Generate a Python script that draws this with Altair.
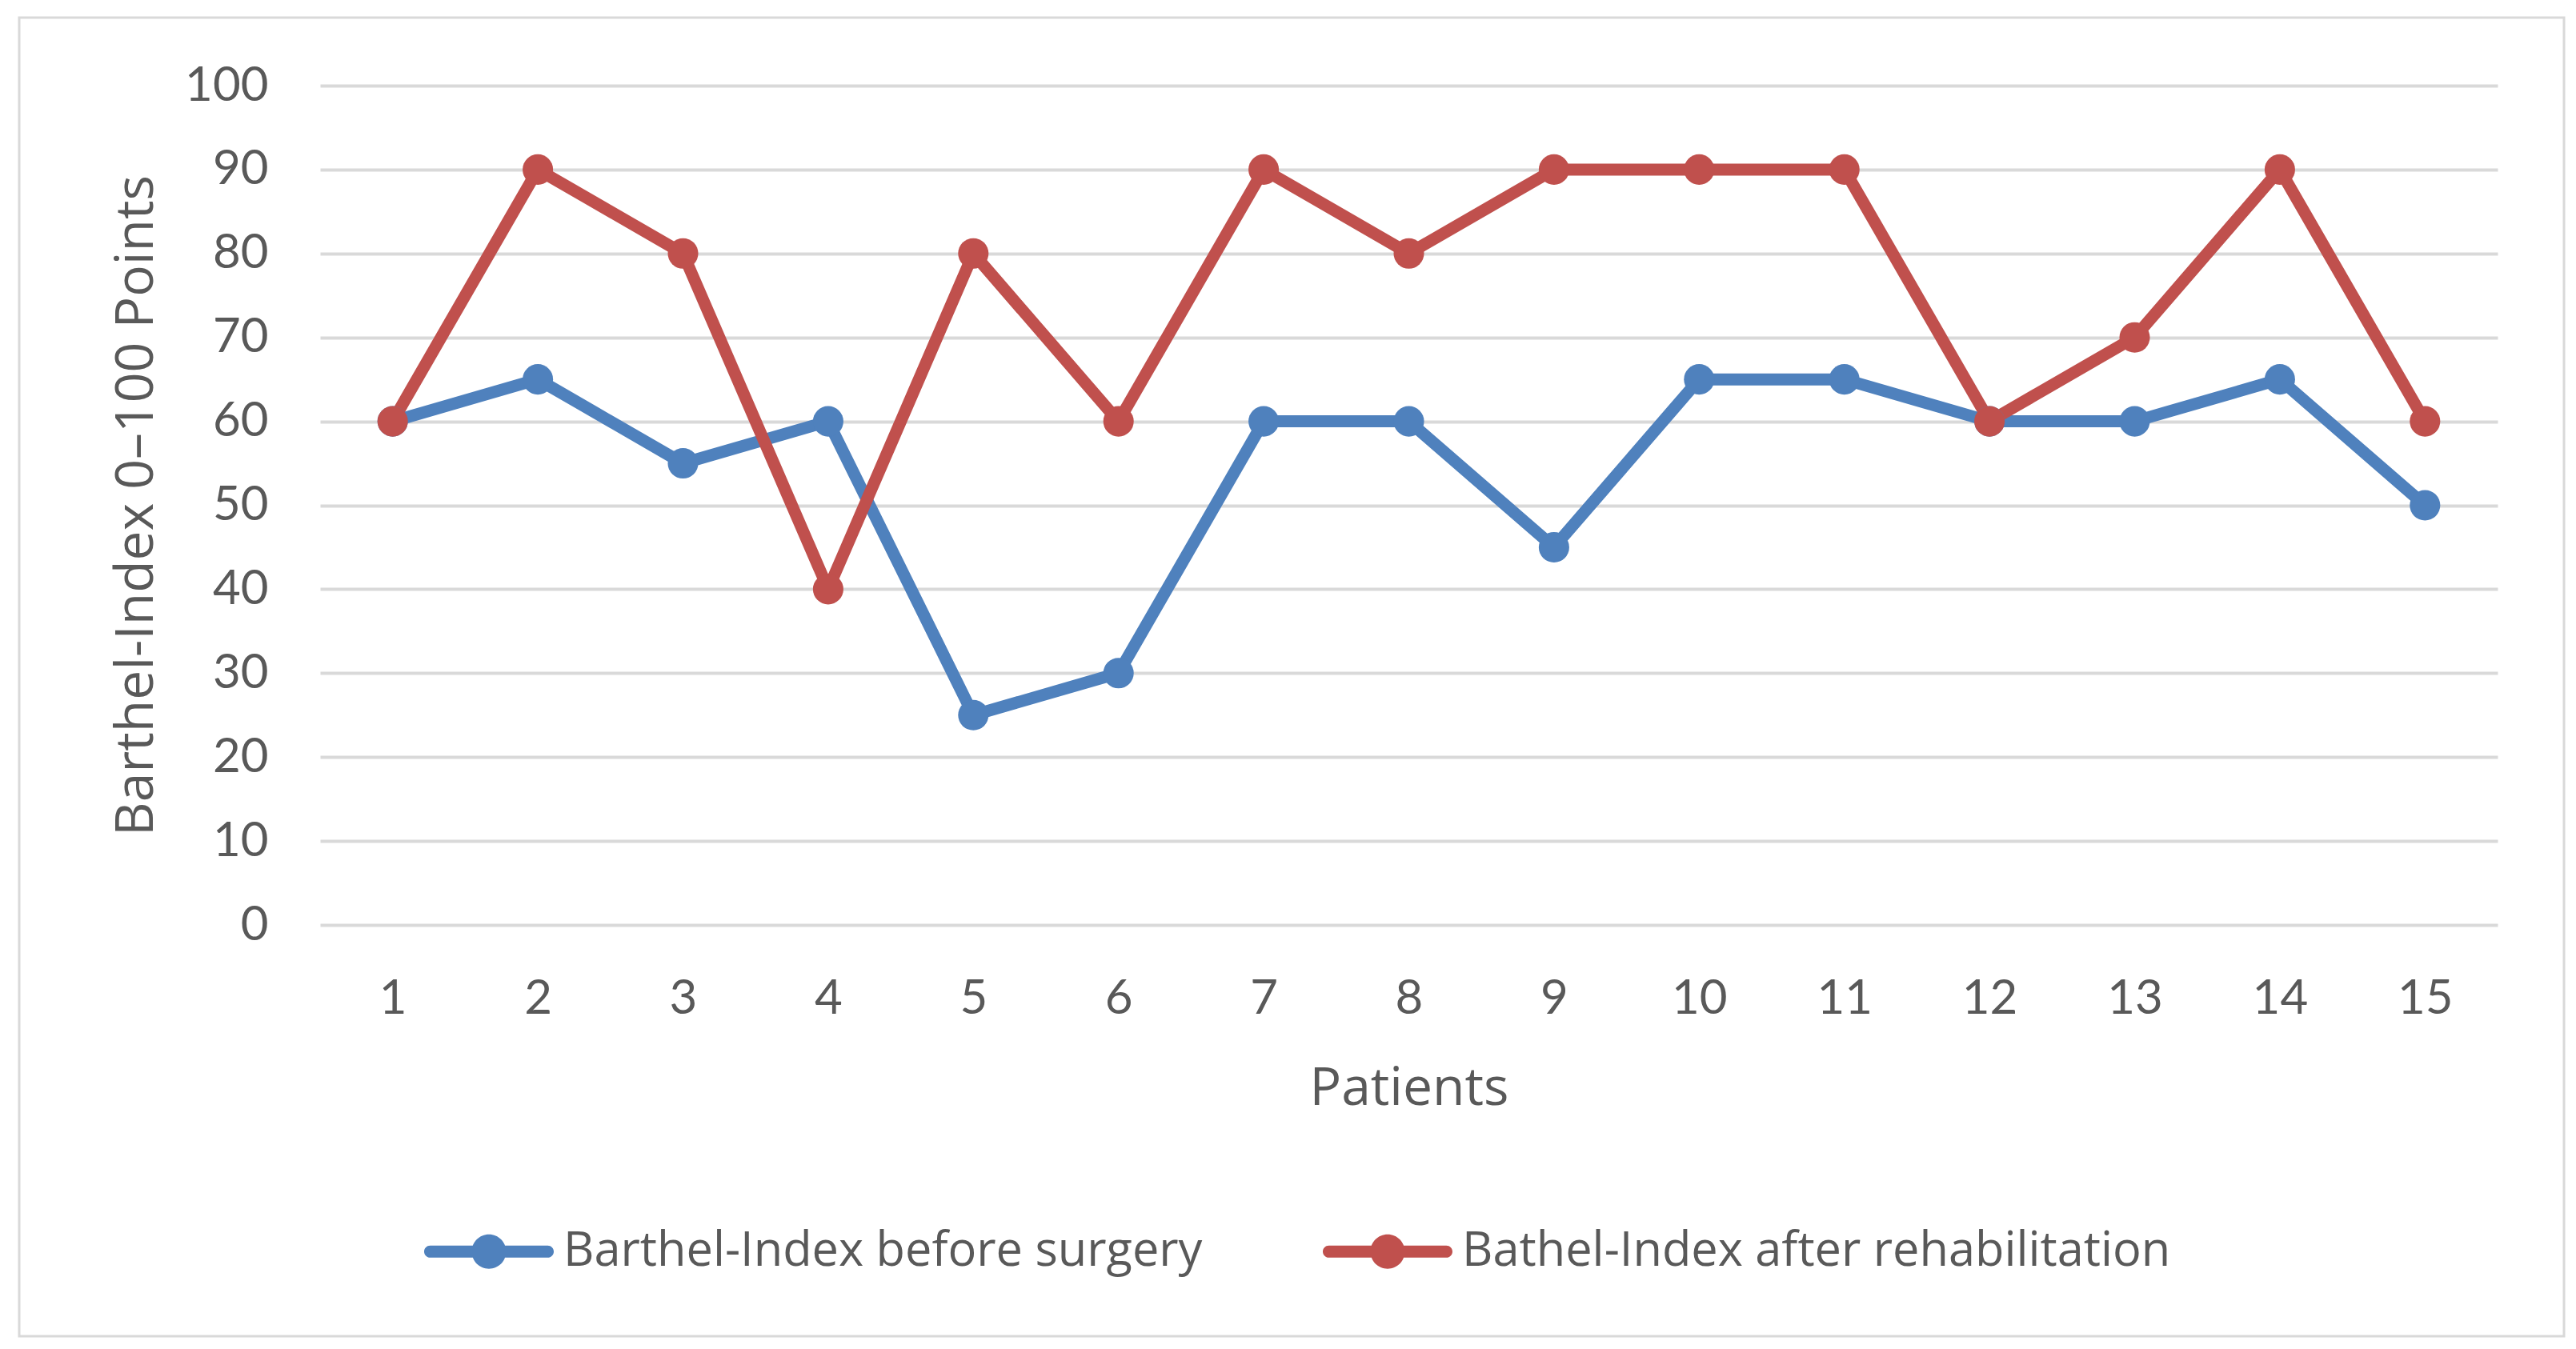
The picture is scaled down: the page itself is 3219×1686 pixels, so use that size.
import altair as alt
import pandas as pd

patients = list(range(1, 16))
before = [60, 65, 55, 60, 25, 30, 60, 60, 45, 65, 65, 60, 60, 65, 50]
after = [60, 90, 80, 40, 80, 60, 90, 80, 90, 90, 90, 60, 70, 90, 60]
series_names = ["Barthel-Index before surgery", "Bathel-Index after rehabilitation"]
series_colors = ["#4F81BD", "#C0504D"]

rows = []
for p, b in zip(patients, before):
    rows.append({"Patient": p, "Value": b, "Series": series_names[0]})
for p, a in zip(patients, after):
    rows.append({"Patient": p, "Value": a, "Series": series_names[1]})
df = pd.DataFrame(rows)

TXT = "#595959"
W, H = 2721, 1049

legend_path = ("M-0.907,-0.093 L0.907,-0.093 A0.093,0.093 0 0,1 0.907,0.093 "
               "L-0.907,0.093 A0.093,0.093 0 0,1 -0.907,-0.093 Z "
               "M0.265,0 A0.265,0.265 0 1,1 -0.265,0 A0.265,0.265 0 1,1 0.265,0 Z")

x = alt.X("Patient:O", title="Patients",
          axis=alt.Axis(labelAngle=0, labelFont="Lato", labelFontSize=60, labelColor=TXT,
                        labelPadding=63, ticks=False, domain=False, grid=False,
                        titleFont="Open Sans", titleFontSize=66, titleFontWeight="normal",
                        titleColor=TXT, titlePadding=50))
y = alt.Y("Value:Q", title="Barthel-Index 0\u2013100 Points",
          scale=alt.Scale(domain=[0, 100]),
          axis=alt.Axis(values=list(range(0, 101, 10)), labelFont="Lato", labelFontSize=60,
                        labelColor=TXT, labelPadding=65, ticks=False, domain=False,
                        gridColor="#d9d9d9", gridWidth=4,
                        titleFont="Open Sans", titleFontSize=66, titleFontWeight="normal",
                        titleColor=TXT, titlePadding=26))
color = alt.Color("Series:N", sort=series_names,
                  scale=alt.Scale(domain=series_names, range=series_colors),
                  legend=alt.Legend(title=None, orient="none", direction="horizontal",
                                    legendX=130, legendY=1376,
                                    symbolType=legend_path, symbolSize=26244,
                                    symbolStrokeWidth=0,
                                    labelFont="Open Sans", labelFontSize=59.5, labelColor=TXT,
                                    labelOffset=12, columnPadding=150, labelLimit=2000))

lines = alt.Chart(df).mark_line(strokeWidth=15).encode(x=x, y=y, color=color)
points = alt.Chart(df).mark_point(filled=True, size=1450, opacity=1).encode(x=x, y=y, color=color)

frame = alt.Chart(alt.Data(values=[{}])).mark_rect(
    fill=None, stroke="#d9d9d9", strokeWidth=3, clip=False
).encode(x=alt.value(-376), x2=alt.value(2804), y=alt.value(-85), y2=alt.value(1563))

chart = alt.layer(frame, lines, points).properties(
    width=W, height=H,
    autosize=alt.AutoSizeParams(type="none"),
    padding={"left": 392, "top": 99, "right": 90, "bottom": 520},
).configure(background="white").configure_view(stroke=None)

chart.save("out.html", embed_options={"renderer": "svg", "actions": False})
